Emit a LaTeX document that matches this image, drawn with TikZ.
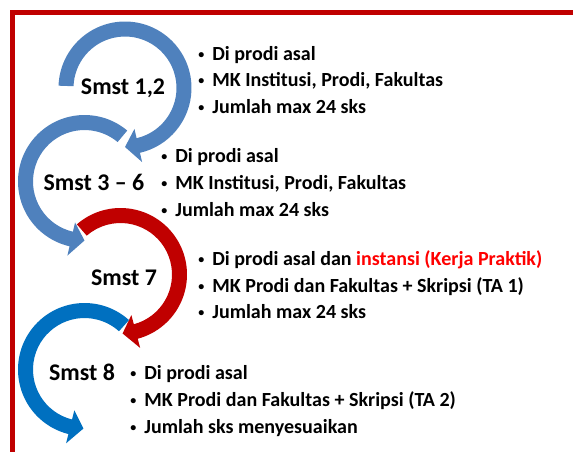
\documentclass[tikz,border=0pt]{standalone}
\usepackage{fontspec}
\usepackage{graphicx}
\setmainfont{Carlito}
\definecolor{biruMuda}{HTML}{4F81BD}
\definecolor{biruTua}{HTML}{0070C0}
\definecolor{merahTua}{HTML}{C00000}
\definecolor{merahTerang}{HTML}{FF0000}
\newcommand{\bul}{\makebox[0.8em][l]{\hspace{0.1em}\raisebox{0.1em}{\scalebox{0.6}{•}}}}

\begin{document}
\begin{tikzpicture}[x=0.02cm, y=0.02cm,
  smst/.style={anchor=base, font=\bfseries\fontsize{13.6}{16}\selectfont, inner sep=0pt},
  butir/.style={anchor=base west, font=\bfseries\fontsize{11.4}{14}\selectfont, inner sep=0pt}]
\clip (0,0) rectangle (573,-451);

% red frame, only top and left side visible
\draw[merahTua, line width=2.5pt] (600,-12.5) -- (12.5,-12.5) -- (12.5,-480);

% circular arrows: centre, tail angle, head angle, tip angle, colour
\foreach \cx/\cy/\awal/\akhir/\ujung/\warna in
  {125/88/178/-77/-90/biruMuda, 84.5/181.5/50/257/270/biruMuda,
   120.5/274.5/131/-75/-88/merahTua, 84.5/369.5/48/256/269/biruTua}
  \fill[\warna, shift={(\cx,-\cy)}]
    (\awal:66.5) arc[start angle=\awal, end angle=\akhir, radius=66.5]
    -- (\akhir:76) -- (\ujung:59) -- (\akhir:42) -- (\akhir:51.5)
    arc[start angle=\akhir, end angle=\awal, radius=51.5] -- cycle;

% semester labels
\node[smst] (s12) at (123,-94) {Smst 1,2};
\node[smst] (s36) at (94,-190) {Smst 3 – 6};
\node[smst] (s7) at (124,-285) {Smst 7};
\node[smst] (s8) at (82,-380) {Smst 8};

% notes per semester
\foreach \y/\isi [count=\i] in {60/Di prodi asal, 86.7/{MK Institusi, Prodi, Fakultas}, 113.3/Jumlah max 24 sks}
  \node[butir] (ket12-\i) at (196,-\y) {\bul\isi};
\foreach \y/\isi [count=\i] in {162.7/Di prodi asal, 189.3/{MK Institusi, Prodi, Fakultas}, 216/Jumlah max 24 sks}
  \node[butir] (ket36-\i) at (159,-\y) {\bul\isi};
\foreach \y/\isi [count=\i] in {265/{Di prodi asal dan \textcolor{merahTerang}{instansi (Kerja Praktik)}},
    292.3/{MK Prodi dan Fakultas + Skripsi (TA 1)}, 318.3/Jumlah max 24 sks}
  \node[butir] (ket7-\i) at (196,-\y) {\bul\isi};
\foreach \y/\isi [count=\i] in {379/Di prodi asal, 406.7/{MK Prodi dan Fakultas + Skripsi (TA 2)}, 433.3/Jumlah sks menyesuaikan}
  \node[butir] (ket8-\i) at (128,-\y) {\bul\isi};
\end{tikzpicture}
\end{document}
